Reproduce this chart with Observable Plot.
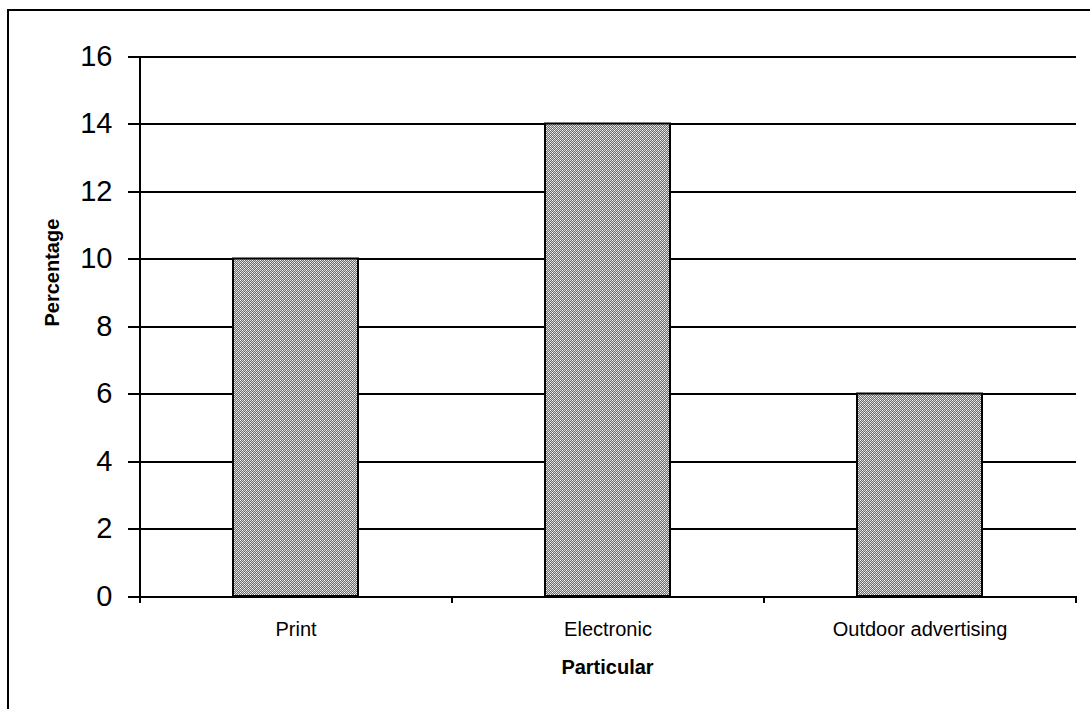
<!DOCTYPE html>
<html>
<head>
<meta charset="utf-8">
<script src="https://cdn.jsdelivr.net/npm/d3@7"></script>
<script src="https://cdn.jsdelivr.net/npm/@observablehq/plot@0.6"></script>
<style>
  html, body { margin: 0; padding: 0; background: #fff; overflow: hidden; width: 1090px; height: 709px; }
  #wrap { position: relative; width: 1090px; height: 709px; }
  #frame { position: absolute; left: 7px; top: 9px; width: 1100px; height: 720px; border: 2px solid #000; box-sizing: border-box; }
  #chart { position: absolute; left: 0; top: 0; }
</style>
</head>
<body>
<div id="wrap"><div id="frame"></div><div id="chart"></div></div>
<script>
const categories = ["Print", "Electronic", "Outdoor advertising"];
const values = [10, 14, 6];
const yTicks = [0, 2, 4, 6, 8, 10, 12, 14, 16];
const xTitle = "Particular";
const yTitle = "Percentage";

const data = categories.map((c, i) => ({category: c, value: values[i]}));

const chart = Plot.plot({
  width: 1090,
  height: 709,
  marginLeft: 138,
  marginRight: 14,
  marginTop: 56,
  marginBottom: 113,
  style: {fontFamily: "'Liberation Sans', Arial, sans-serif", color: "#000", background: "transparent", overflow: "visible"},
  x: {domain: categories, paddingInner: 0.6, paddingOuter: 0.3, label: null},
  y: {domain: [0, 16], ticks: yTicks, label: null},
  marks: [
    Plot.ruleY(yTicks, {stroke: "#000", strokeWidth: 2, shapeRendering: "crispEdges"}),
    Plot.barY(data, {x: "category", y: "value", fill: "url(#chk)", stroke: "#000", strokeWidth: 2}),
    Plot.axisY({ticks: yTicks, tickSize: 10, tickPadding: 16, fontSize: 29, label: null, stroke: "#000", strokeWidth: 2, shapeRendering: "crispEdges"}),
    Plot.axisX({tickSize: 0, tickPadding: 25, fontSize: 20, label: null}),
    Plot.text([yTitle], {frameAnchor: "left", rotate: -90, dx: -86, fontSize: 20, fontWeight: "bold", fill: "#000"}),
    Plot.text([xTitle], {frameAnchor: "bottom", dy: 77, fontSize: 20, fontWeight: "bold", fill: "#000"})
  ]
});

document.getElementById("chart").appendChild(chart);

// checkered pattern fill for bars
const svg = d3.select(chart);
const defs = svg.insert("defs", ":first-child");
const pat = defs.append("pattern").attr("id", "chk").attr("patternUnits", "userSpaceOnUse")
  .attr("width", 4).attr("height", 4);
pat.append("rect").attr("width", 4).attr("height", 4).attr("fill", "#d2d2d2");
const cells = [
  [0,0,"#ffffff"],[2,2,"#ffffff"],
  [1,0,"#6e6e6e"],[3,0,"#6e6e6e"],[0,1,"#6e6e6e"],[2,1,"#6e6e6e"],
  [1,2,"#6e6e6e"],[3,2,"#6e6e6e"],[0,3,"#6e6e6e"],[2,3,"#6e6e6e"]
];
cells.forEach(([x, y, c]) => pat.append("rect").attr("x", x).attr("y", y).attr("width", 1).attr("height", 1).attr("fill", c));

// y axis line and category boundary ticks from the library's scales
const xs = chart.scale("x");
const ys = chart.scale("y");
const y0 = ys.apply(0);
const yTop = ys.apply(16);
const half = (xs.step - xs.bandwidth) / 2;
const bounds = categories.map(c => xs.apply(c) - half);
bounds.push(xs.apply(categories[categories.length - 1]) + xs.bandwidth + half);
const g = svg.append("g").attr("stroke", "#000").attr("shape-rendering", "crispEdges");
g.append("line").attr("x1", bounds[0]).attr("x2", bounds[0]).attr("y1", yTop).attr("y2", y0 + 7).attr("stroke-width", 2);
bounds.slice(1).forEach(b => g.append("line").attr("x1", b).attr("x2", b).attr("y1", y0).attr("y2", y0 + 7).attr("stroke-width", 2));
</script>
</body>
</html>
